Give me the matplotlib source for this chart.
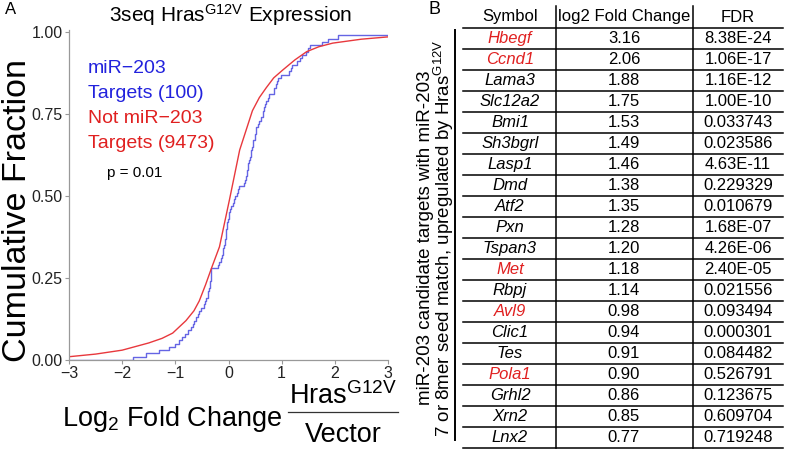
import matplotlib
matplotlib.use('Agg')
import matplotlib.pyplot as plt
import numpy as np

plt.rcParams['font.family'] = ['Liberation Sans', 'DejaVu Sans']
plt.rcParams['mathtext.fontset'] = 'custom'
plt.rcParams['mathtext.rm'] = 'Liberation Sans'
plt.rcParams['mathtext.it'] = 'Liberation Sans:italic'
plt.rcParams['mathtext.bf'] = 'Liberation Sans:bold'

W, H = 785, 449

# Table B data
symbols = ['Hbegf', 'Ccnd1', 'Lama3', 'Slc12a2', 'Bmi1', 'Sh3bgrl', 'Lasp1', 'Dmd',
           'Atf2', 'Pxn', 'Tspan3', 'Met', 'Rbpj', 'Avl9', 'Clic1', 'Tes', 'Pola1',
           'Grhl2', 'Xrn2', 'Lnx2']
log2fc = [3.16, 2.06, 1.88, 1.75, 1.53, 1.49, 1.46, 1.38, 1.35, 1.28, 1.20, 1.18,
          1.14, 0.98, 0.94, 0.91, 0.90, 0.86, 0.85, 0.77]
fdr = ['8.38E-24', '1.06E-17', '1.16E-12', '1.00E-10', '0.033743', '0.023586',
       '4.63E-11', '0.229329', '0.010679', '1.68E-07', '4.26E-06', '2.40E-05',
       '0.021556', '0.093494', '0.000301', '0.084482', '0.526791', '0.123675',
       '0.609704', '0.719248']
red_symbols = ['Hbegf', 'Ccnd1', 'Met', 'Avl9', 'Pola1']

# the other 80 miR-203 targets (log2 FC)
other_targets = [-1.80, -1.56, -1.30, -1.11, -1.00, -0.93, -0.88, -0.82, -0.76, -0.70,
                 -0.67, -0.64, -0.61, -0.58, -0.55, -0.52, -0.47, -0.44, -0.42, -0.39,
                 -0.38, -0.36, -0.35, -0.34, -0.33, -0.32, -0.32, -0.32, -0.20, -0.17,
                 -0.15, -0.13, -0.11, -0.10, -0.08, -0.07, -0.06, -0.05, -0.04, -0.04,
                 -0.03, -0.02, -0.01, 0.00, 0.01, 0.02, 0.05, 0.08, 0.11, 0.13,
                 0.16, 0.18, 0.20, 0.30, 0.31, 0.33, 0.34, 0.35, 0.36, 0.36,
                 0.38, 0.40, 0.42, 0.43, 0.44, 0.46, 0.47, 0.49, 0.50, 0.51,
                 0.52, 0.55, 0.58, 0.61, 0.64, 0.65, 0.67, 0.69, 0.71, 0.74]

# non-target genes (9473), cumulative curve
nontarget_x = [-3.0, -2.5, -2.0, -1.5, -1.25, -1.05, -0.8, -0.65, -0.55, -0.43, -0.32,
               -0.17, 0.02, 0.21, 0.33, 0.45, 0.58, 0.71, 0.85, 1.02, 1.25, 1.47,
               1.7, 1.96, 2.5, 3.0]
nontarget_cdf = [0.010, 0.018, 0.030, 0.052, 0.066, 0.082, 0.12, 0.15, 0.18, 0.23, 0.28,
                 0.345, 0.49, 0.64, 0.70, 0.76, 0.80, 0.83, 0.86, 0.884, 0.915, 0.94,
                 0.955, 0.966, 0.978, 0.985]

fig = plt.figure(figsize=(W / 100, H / 100), dpi=100, facecolor='white')

# ---- panel A ----
ax = fig.add_axes([69 / W, 1 - 360 / H, (388 - 69) / W, (360 - 30) / H])
targets = np.sort(np.array(other_targets + log2fc))
ecdf = np.arange(1, len(targets) + 1) / len(targets)
ax.step(np.r_[-4, targets], np.r_[0, ecdf], where='post', color='#4a4ae0', lw=1.0, alpha=0.85)
ax.plot(nontarget_x, nontarget_cdf, color='#e8383d', lw=1.0)
ax.set_xlim(-3, 3)
ax.set_ylim(0, 1.006)
ax.set_xticks([-3, -2, -1, 0, 1, 2, 3])
ax.set_yticks([0, 0.25, 0.5, 0.75, 1.0])
ax.set_yticklabels(['0.00', '0.25', '0.50', '0.75', '1.00'])
for s in ['top', 'right']:
    ax.spines[s].set_visible(False)
for s in ['left', 'bottom']:
    ax.spines[s].set_color('#999999')
    ax.spines[s].set_linewidth(0.9)
ax.tick_params(colors='#999999', labelcolor='#222222', labelsize=11.5, length=3, width=0.8, pad=1.5)

# overlay axes in pixel coordinates for labels and the table
ov = fig.add_axes([0, 0, 1, 1])
ov.set_xlim(0, W)
ov.set_ylim(H, 0)
ov.axis('off')

ov.text(5, 9, 'A', fontsize=12, va='center', ha='left')
ov.text(231, 15, r'3seq Hras$^{\mathrm{G12V}}$ Expression', fontsize=15, ha='center', va='center')
ov.text(33, 211, 'Cumulative Fraction', fontsize=24.5, rotation=90, ha='right', va='center')

ov.text(88, 73, 'miR\u2212203', color='#2222dd', fontsize=14, va='baseline')
ov.text(88, 98, 'Targets (100)', color='#2222dd', fontsize=14, va='baseline')
ov.text(88, 123, 'Not miR\u2212203', color='#e02020', fontsize=14, va='baseline')
ov.text(88, 148, 'Targets (9473)', color='#e02020', fontsize=14, va='baseline')
ov.text(107, 177, 'p = 0.01', fontsize=11, va='baseline')

# x label with fraction
ov.text(62, 426, r'Log$_2$ Fold Change', fontsize=19.5, va='baseline', ha='left')
ov.text(343, 404, r'Hras$^{\mathrm{G12V}}$', fontsize=19.5, va='baseline', ha='center')
ov.plot([288, 398], [412, 412], color='#333333', lw=0.9)
ov.text(343, 442, 'Vector', fontsize=19.5, va='baseline', ha='center')

# ---- panel B ----
ov.text(428, 9, 'B', fontsize=13, va='center', ha='left')
row_h = 21
top = 28
x_left, x_right = 463, 783
col_x = [556, 693]
centers = [510, 624, 738]
headers = ['Symbol', 'log2 Fold Change', 'FDR']
for cx, h in zip(centers, headers):
    ov.text(cx, 17, h, fontsize=12, ha='center', va='center')
for i in range(len(symbols) + 1):
    y = top + row_h * i
    ov.plot([x_left, x_right], [y, y], color='black', lw=1.1)
for cx in col_x:
    ov.plot([cx, cx], [6, top + row_h * len(symbols)], color='black', lw=1.1)
ov.plot([455, 455], [30, 440], color='black', lw=1.4)

for i, (sym, fc, fd) in enumerate(zip(symbols, log2fc, fdr)):
    y = top + row_h * (i + 0.5)
    col = '#e02020' if sym in red_symbols else 'black'
    ov.text(centers[0], y, sym, fontsize=12, style='italic', color=col, ha='center', va='center')
    ov.text(centers[1], y, f'{fc:.2f}', fontsize=12, ha='center', va='center')
    ov.text(centers[2], y, fd, fontsize=12, ha='center', va='center')

ov.text(425, 238, 'miR-203 candidate targets with miR-203', fontsize=13.5,
        rotation=90, ha='center', va='center')
ov.text(444, 238, r'7 or 8mer seed match, upregulated by Hras$^{\mathrm{G12V}}$', fontsize=13.5,
        rotation=90, ha='center', va='center')

fig.savefig('out.png', dpi=100, facecolor='white')
